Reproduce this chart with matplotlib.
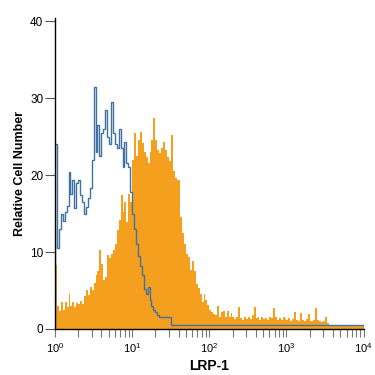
import numpy as np
import matplotlib
matplotlib.use("Agg")
import matplotlib.pyplot as plt
from matplotlib import font_manager as fm
from matplotlib.ticker import LogLocator, FixedLocator

# ---- data (160 log-spaced channels over 10^0 .. 10^4) ----
n_bins = 160
log_edges = np.linspace(0, 4, n_bins + 1)

control_counts = ([24, 10.5, 13, 15, 14, 15.2, 16, 20.4, 17.5, 19.4,
                   15.7, 19, 19.3, 17.4, 16.5, 15, 15.8, 17, 18.3, 22,
                   31.5, 23, 26.5, 22.5, 25.5, 26, 28.4, 25, 24, 29.5,
                   25.5, 24, 23.5, 26, 23.5, 21, 24.3, 21.5, 21, 17.8,
                   15, 13, 11, 9.5, 8.2, 7, 5.2, 4.5, 5.5, 3.8,
                   3, 2.5, 2.2, 1.8, 1.5, 1.5, 1.5, 1.5, 1.5, 1.5]
                  + [0.5] * 100)

lrp1_counts = ([8.3, 3.0, 2.3, 3.5, 2.5, 3.5, 2.8, 4.5, 3.0, 3.5,
                2.8, 3.4, 3.2, 3.6, 3.2, 4.3, 5.0, 4.4, 5.5, 5.0,
                6.0, 7.0, 7.5, 10.3, 8.5, 6.4, 6.8, 9.6, 9.2, 9.8,
                10.3, 11.1, 12.9, 14.2, 17.4, 15.2, 16.5, 13.9, 17.6, 16.5,
                22, 25.4, 22.5, 24.5, 25.6, 24.1, 23, 22.4, 21.5, 23,
                24.5, 27.4, 24.5, 23.2, 22.8, 23.5, 24.3, 23.2, 22.4, 21.8,
                25.2, 20.5, 19.6, 19.4, 19.4, 14.5, 12.5, 11, 9.8, 9.3,
                7.7, 8.8, 7.5, 5.9, 5.3, 4.6, 3.5, 4.5, 3.8, 3.1,
                2.5, 2.2, 2.0, 1.8, 3.0, 1.6, 2.2, 2.3, 1.6, 2.4,
                1.5, 2.1, 1.5, 1.3, 1.6, 2.8, 1.4, 1.2, 1.6, 1.3,
                1.5, 1.3, 1.8, 2.8, 1.4, 1.5, 1.2, 1.6, 1.3, 1.4,
                1.2, 1.6, 1.4, 2.7, 1.5, 1.2, 1.4, 1.2, 1.5, 1.3,
                1.2, 1.4, 1.1, 1.3, 2.2, 1.2, 1.1, 2.1, 1.2, 1.0,
                1.3, 2.0, 1.1, 1.0, 1.2, 2.7, 1.2, 1.0, 0.9, 1.1,
                1.6, 0.8, 0.5]
               + [0.35] * 17)

y_ticks = [0, 10, 20, 30, 40]
x_label = "LRP-1"
y_label = "Relative Cell Number"

# ---- fonts ----
families = [f.name for f in fm.fontManager.ttflist]
label_family = ["Liberation Sans Narrow", "DejaVu Sans"] if "Liberation Sans Narrow" in families else ["Liberation Sans", "DejaVu Sans"]
plt.rcParams['font.family'] = label_family

orange = "#f59f1f"
blue = "#3f72a0"

fig = plt.figure(figsize=(3.75, 3.75), dpi=100)
ax = fig.add_axes([0.1467, 0.1227, 0.823, 0.8283])

edges = 10 ** log_edges
ax.stairs(lrp1_counts, edges, fill=True, color=orange, linewidth=0)
ax.stairs(control_counts, edges, fill=False, color=blue, linewidth=1.0, baseline=0)

ax.set_xscale("log")
ax.set_xlim(1, 1e4)
ax.set_ylim(0, 40.35)

ax.spines["top"].set_visible(False)
ax.spines["right"].set_visible(False)
for s in ("left", "bottom"):
    ax.spines[s].set_color("black")
    ax.spines[s].set_linewidth(1.0)

ax.yaxis.set_major_locator(FixedLocator(y_ticks))
ax.xaxis.set_major_locator(LogLocator(base=10, numticks=10))
ax.xaxis.set_minor_locator(LogLocator(base=10, subs=np.arange(2, 10), numticks=50))
ax.tick_params(axis="y", which="major", direction="out", length=7, width=0.8,
               color="#555555", labelsize=8.5, pad=1.5)
ax.tick_params(axis="x", which="both", direction="out", length=6, width=0.8,
               color="#777777", labelsize=8, pad=2.5)

ax.set_xlabel(x_label, fontsize=10, fontweight="bold", labelpad=3)
ax.set_ylabel(y_label, fontsize=9, fontweight="bold", labelpad=3)

fig.savefig("out.png", dpi=100)
